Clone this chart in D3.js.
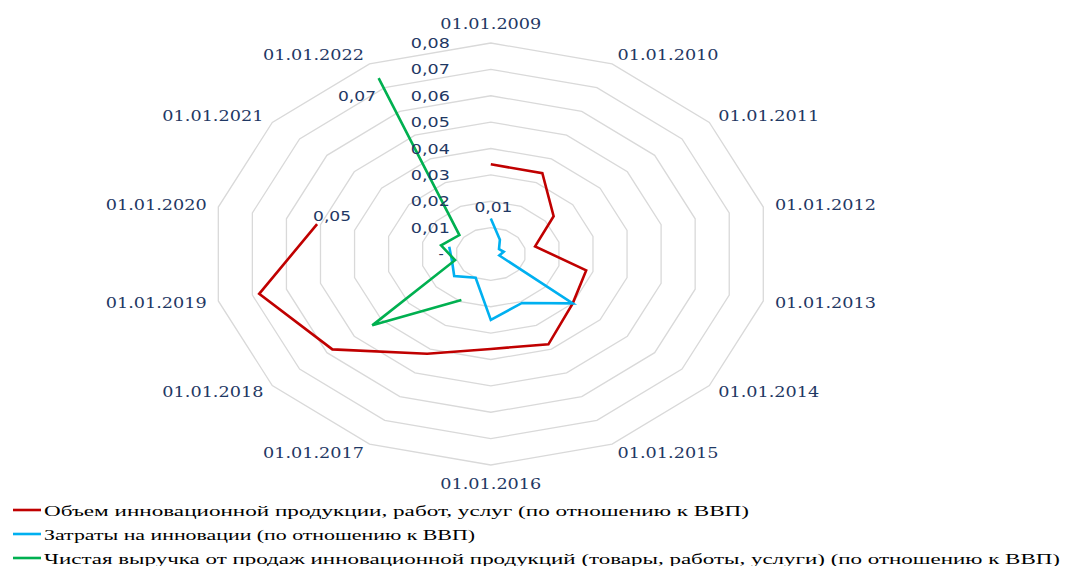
<!DOCTYPE html>
<html><head><meta charset="utf-8">
<script src="https://cdn.jsdelivr.net/npm/d3@7/dist/d3.min.js"></script>
<style>
html,body{margin:0;padding:0;background:#fff;}
svg{display:block;}
</style></head>
<body>
<svg id="chart" width="1067" height="566"></svg>
<script>
const categories = ["01.01.2009","01.01.2010","01.01.2011","01.01.2012","01.01.2013","01.01.2014","01.01.2015","01.01.2016","01.01.2017","01.01.2018","01.01.2019","01.01.2020","01.01.2021","01.01.2022"];
const seriesNames = [
  "Объем инновационной продукции, работ, услуг (по отношению к ВВП)",
  "Затраты на инновации (по отношению к ВВП)",
  "Чистая выручка от продаж инновационной продукций (товары, работы, услуги)  (по отношению к ВВП)"
];
const volumeValues = [0.034,0.034,0.023,0.013,0.028,0.030,0.038,0.036,0.042,0.058,0.068,0.051,null,null];
const costValues   = [0.0135,0.006,0.003,0.0038,0.0025,0.030,0.0206,0.025,0.010,0.0134,0.0114,0.0122,null,null];
const revenueValues= [null,null,null,null,null,null,null,null,0.0194,0.0434,0.0105,0.0146,0.0115,0.074];
const tickValues = [0,0.01,0.02,0.03,0.04,0.05,0.06,0.07,0.08];
const tickLabels = ["-","0,01","0,02","0,03","0,04","0,05","0,06","0,07","0,08"];
// index of the point in each series that carries a data label
const labeledPoint = [11, 0, 13];
const colors = ["#c00000","#00b0f0","#00b050"];

const svg = d3.select("#chart");
const cx = 490.8, cy = 254, rx = 279.5, ry = 211;
const n = categories.length;
const rScale = d3.scaleLinear().domain([0,0.08]).range([0,1]);
const aScale = d3.scaleLinear().domain([0,n]).range([0,2*Math.PI]);
const px = (i,v) => cx + rx*rScale(v)*Math.sin(aScale(i));
const py = (i,v) => cy - ry*rScale(v)*Math.cos(aScale(i));
const textColor = "#1f3864";

// grid rings
const ring = d3.line().curve(d3.curveLinearClosed);
tickValues.filter(t=>t>0).forEach(t=>{
  svg.append("path")
    .attr("d", ring(d3.range(n).map(i=>[px(i,t),py(i,t)])))
    .attr("fill","none").attr("stroke","#d9d9d9").attr("stroke-width",1.3);
});

// series
const allSeries = [volumeValues,costValues,revenueValues];
const line = d3.line().defined(d=>d[1]!=null).x(d=>px(d[0],d[1])).y(d=>py(d[0],d[1]));
allSeries.forEach((vals,s)=>{
  svg.append("path")
    .attr("d", line(vals.map((v,i)=>[i,v])))
    .attr("fill","none").attr("stroke",colors[s]).attr("stroke-width",2.6)
    .attr("stroke-linejoin","miter");
});

// tick labels
tickValues.forEach((t,k)=>{
  const txt = svg.append("text")
    .attr("x", cx - 41 - (t===0?6:0)).attr("y", py(0,t))
    .attr("text-anchor","end").attr("dominant-baseline","central")
    .attr("font-family","DejaVu Sans").attr("font-size",14.5)
    .attr("fill",textColor).text(tickLabels[k]);
  if (t>0) txt.attr("textLength",39).attr("lengthAdjust","spacingAndGlyphs");
});

// category labels
categories.forEach((c,i)=>{
  const a = aScale(i), s = Math.sin(a), co = Math.cos(a);
  const vx = px(i,0.08), vy = py(i,0.08);
  let anchor = "middle", x = vx;
  if (s > 0.01) { anchor = "start"; x = vx + 4 + 8*s*s; }
  else if (s < -0.01) { anchor = "end"; x = vx - 4 - 8*s*s; }
  const y = vy - co*(Math.abs(s)<0.01 ? 19 : 10);
  svg.append("text").attr("x",x).attr("y",y)
    .attr("text-anchor",anchor).attr("dominant-baseline","central")
    .attr("font-family","DejaVu Serif").attr("font-size",15)
    .attr("textLength",101).attr("lengthAdjust","spacingAndGlyphs")
    .attr("fill",textColor).text(c);
});

// data labels
const fmt = v => d3.format(".2f")(v).replace(".",",");
const labelOffsets = [[15,-8],[2.6,-11],[-21.6,18.3]];
allSeries.forEach((vals,s)=>{
  const i = labeledPoint[s], v = vals[i];
  svg.append("text")
    .attr("x", px(i,v)+labelOffsets[s][0]).attr("y", py(i,v)+labelOffsets[s][1])
    .attr("text-anchor","middle").attr("dominant-baseline","central")
    .attr("font-family","DejaVu Sans").attr("font-size",14.5)
    .attr("textLength",38).attr("lengthAdjust","spacingAndGlyphs")
    .attr("fill",textColor).text(fmt(v));
});

// legend
const legendWidths = [705, 431, 1016];
seriesNames.forEach((name,s)=>{
  const base = 516 + s*24;
  svg.append("line").attr("x1",13).attr("x2",41).attr("y1",base-6).attr("y2",base-6)
    .attr("stroke",colors[s]).attr("stroke-width",2.6);
  svg.append("text").attr("x",44).attr("y",base)
    .attr("font-family","Liberation Serif").attr("font-size",14.5)
    .attr("textLength",legendWidths[s]).attr("lengthAdjust","spacingAndGlyphs")
    .attr("fill","#000").text(name);
});
</script>
</body></html>
